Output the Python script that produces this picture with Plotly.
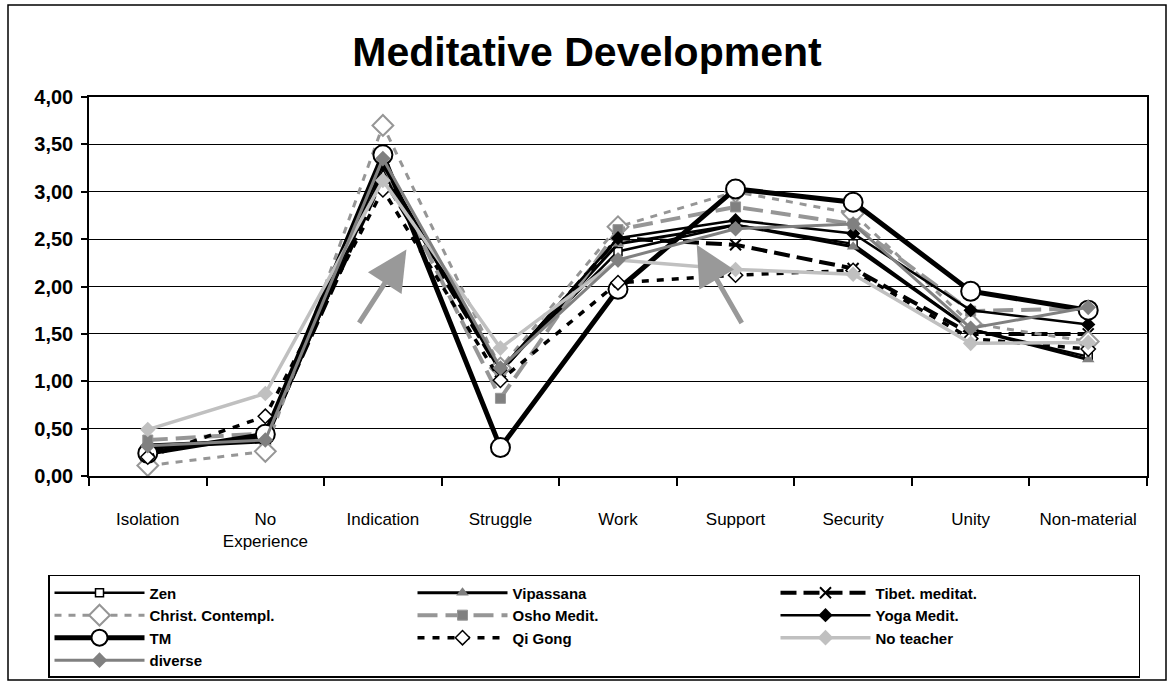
import plotly.graph_objects as go

categories = ["Isolation", "No<br>Experience", "Indication", "Struggle", "Work",
              "Support", "Security", "Unity", "Non-material"]

zen        = [0.33, 0.38, 3.21, 1.12, 2.37, 2.65, 2.45, 1.55, 1.26]
vipassana  = [0.30, 0.36, 3.25, 1.10, 2.45, 2.65, 2.42, 1.55, 1.23]
tibet      = [0.28, 0.40, 3.15, 1.10, 2.51, 2.44, 2.19, 1.50, 1.50]
christ     = [0.11, 0.26, 3.70, 1.14, 2.63, 3.00, 2.77, 1.61, 1.42]
osho       = [0.38, 0.45, 3.30, 0.82, 2.60, 2.84, 2.66, 1.74, 1.77]
yoga       = [0.30, 0.40, 3.28, 1.12, 2.51, 2.70, 2.56, 1.75, 1.60]
tm         = [0.24, 0.44, 3.39, 0.30, 1.97, 3.03, 2.89, 1.95, 1.75]
qigong     = [0.20, 0.63, 3.02, 1.01, 2.04, 2.12, 2.17, 1.45, 1.34]
noteacher  = [0.49, 0.87, 3.12, 1.35, 2.28, 2.18, 2.13, 1.40, 1.41]
diverse    = [0.32, 0.38, 3.35, 1.14, 2.28, 2.61, 2.66, 1.56, 1.78]

y_ticks = [0, 0.5, 1, 1.5, 2, 2.5, 3, 3.5, 4]

xs = list(range(len(categories)))

BLACK = "#000000"
GRAY = "#969696"
DGRAY = "#808080"
LGRAY = "#c0c0c0"

series = [
    ("Zen", zen, dict(color=BLACK, width=2.5), dict(symbol="square", size=8, color="white", line=dict(color=BLACK, width=1.5))),
    ("Vipassana", vipassana, dict(color=BLACK, width=3), dict(symbol="triangle-up", size=11, color=DGRAY, line=dict(color=DGRAY, width=0))),
    ("Tibet. meditat.", tibet, dict(color=BLACK, width=4, dash="16px,7px"), dict(symbol="x-thin-open", size=11, color=BLACK, line=dict(color=BLACK, width=2))),
    ("Christ. Contempl.", christ, dict(color=GRAY, width=3, dash="7px,7px"), dict(symbol="diamond", size=16, color="white", line=dict(color=GRAY, width=2))),
    ("Osho Medit.", osho, dict(color=GRAY, width=4, dash="20px,8px"), dict(symbol="square", size=10, color=DGRAY, line=dict(color=GRAY, width=1))),
    ("Yoga Medit.", yoga, dict(color=BLACK, width=2.5), dict(symbol="diamond", size=11, color=BLACK, line=dict(color=BLACK, width=0))),
    ("TM", tm, dict(color=BLACK, width=5), dict(symbol="circle", size=19, color="white", line=dict(color=BLACK, width=2))),
    ("Qi Gong", qigong, dict(color=BLACK, width=3.5, dash="7px,8px"), dict(symbol="diamond", size=11, color="white", line=dict(color=BLACK, width=1.5))),
    ("No teacher", noteacher, dict(color=LGRAY, width=3.5), dict(symbol="diamond", size=12, color=LGRAY, line=dict(color=LGRAY, width=0))),
    ("diverse", diverse, dict(color=DGRAY, width=3), dict(symbol="diamond", size=12, color=DGRAY, line=dict(color=DGRAY, width=0))),
]

fig = go.Figure()
for name, vals, line, marker in series:
    fig.add_trace(go.Scatter(x=xs, y=vals, name=name, mode="lines+markers",
                             line=line, marker=marker, hoverinfo="skip"))

fig.update_layout(
    width=1174, height=682,
    margin=dict(l=89, r=27, t=97, b=206, autoexpand=False),
    paper_bgcolor="white", plot_bgcolor="white",
    separators=",.",
    showlegend=True,
    title=dict(text="<b>Meditative Development</b>", x=0.5, xanchor="center",
               y=0.925, yanchor="middle",
               font=dict(family="Liberation Sans, Arial, sans-serif", size=41, color="black")),
    legend=dict(orientation="h", x=(48 - 89) / 1058, xanchor="left", y=-0.261, yanchor="top",
                entrywidth=258, entrywidthmode="pixels", traceorder="normal",
                bordercolor="black", borderwidth=1.5, bgcolor="white",
                font=dict(family="Liberation Sans, Arial, sans-serif", size=15, color="black", weight="bold"),
                itemwidth=90, tracegroupgap=0),
    hovermode=False,
)

fig.update_xaxes(
    range=[-0.5, len(categories) - 0.5],
    tickmode="array", tickvals=xs, ticktext=categories, ticks="",
    tickfont=dict(family="Liberation Sans, Arial, sans-serif", size=17, color="black"),
    ticklabelstandoff=27,
    showline=True, linecolor="black", linewidth=1.5, mirror=True,
    showgrid=False, zeroline=False,
    minor=dict(tickmode="array", tickvals=[i - 0.5 for i in range(len(categories) + 1)],
               ticks="outside", ticklen=8, tickcolor="black", tickwidth=1.5, showgrid=False),
)
fig.update_yaxes(
    range=[0, 4], tickmode="array", tickvals=y_ticks, tickformat=".2f",
    ticks="outside", ticklen=6, tickcolor="black", tickwidth=1.5,
    tickfont=dict(family="Liberation Sans, Arial, sans-serif", size=20, color="black", weight="bold"),
    ticklabelstandoff=4,
    showline=True, linecolor="black", linewidth=1.5, mirror=True,
    showgrid=True, gridcolor="black", gridwidth=1, zeroline=False,
)

# grey arrows
for head, tail in [((2.20, 2.39), (1.79, 1.60)), ((4.67, 2.44), (5.06, 1.60))]:
    fig.add_annotation(x=head[0], y=head[1], ax=tail[0], ay=tail[1],
                       xref="x", yref="y", axref="x", ayref="y",
                       text="", showarrow=True, arrowhead=2, arrowsize=1.6,
                       arrowwidth=5, arrowcolor="#999999")

# outer chart frame
fig.add_shape(type="rect", xref="paper", yref="paper",
              x0=(8 - 89) / 1058, x1=(1166 - 89) / 1058,
              y0=(476 - 680) / 379, y1=(476 - 5) / 379,
              line=dict(color="black", width=1.5), fillcolor="rgba(0,0,0,0)", layer="below")

fig.write_html("out.html",
               config={"displayModeBar": False},
               post_script="document.body.style.margin='0';document.body.style.padding='0';")
